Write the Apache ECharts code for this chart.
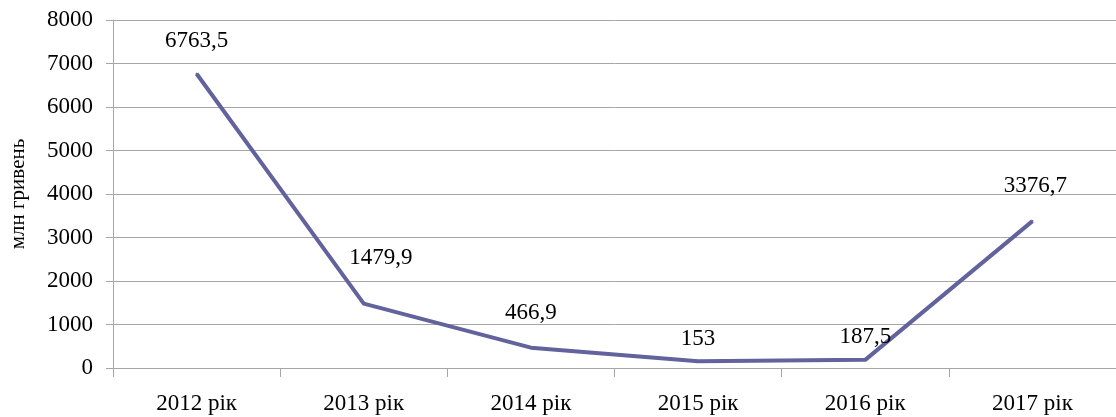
<!DOCTYPE html>
<html>
<head>
<meta charset="utf-8">
<script src="https://cdn.jsdelivr.net/npm/echarts@6/dist/echarts.min.js"></script>
<style>
  html, body { margin: 0; padding: 0; background: #fff; }
  #chart { width: 1116px; height: 417px; }
</style>
</head>
<body>
<div id="chart"></div>
<script>
// дані
const years = ['2012 рік', '2013 рік', '2014 рік', '2015 рік', '2016 рік', '2017 рік'];
const values = [6763.5, 1479.9, 466.9, 153, 187.5, 3376.7];
// зсув підписів над точками
const labelDistance = [20, 33, 22, 10, 10, 23];
const labelShiftX = [0, 17, 0, 0, 0, 3];

const font = '"Liberation Serif", "Times New Roman", serif';
const lineColor = '#62629c';

const chart = echarts.init(document.getElementById('chart'));
chart.setOption({
  animation: false,
  grid: { left: 110, right: 0, top: 20, bottom: 49 },
  xAxis: {
    type: 'category',
    data: years,
    boundaryGap: true,
    axisLine: { lineStyle: { color: '#a6a6a6' } },
    axisTick: { show: true, length: 9, lineStyle: { color: '#a6a6a6' } },
    axisLabel: { color: '#000', fontFamily: font, fontSize: 23, margin: 24 },
    splitLine: { show: false }
  },
  yAxis: {
    type: 'value',
    min: 0,
    max: 8000,
    interval: 1000,
    name: 'млн гривень',
    nameLocation: 'middle',
    nameGap: 84,
    nameRotate: 90,
    nameTextStyle: { color: '#000', fontFamily: font, fontSize: 21 },
    axisLine: { show: true, lineStyle: { color: '#a6a6a6' } },
    axisTick: { show: true, length: 7, lineStyle: { color: '#a6a6a6' } },
    axisLabel: {
      color: '#000', fontFamily: font, fontSize: 23, margin: 20,
      formatter: v => String(v)
    },
    splitLine: { lineStyle: { color: '#a6a6a6' } }
  },
  series: [{
    type: 'line',
    data: values.map((v, i) => ({
      value: v,
      label: { distance: labelDistance[i], offset: [labelShiftX[i], 0] }
    })),
    symbol: 'circle',
    symbolSize: 2,
    showSymbol: true,
    itemStyle: { color: lineColor },
    lineStyle: { color: lineColor, width: 4 },
    label: {
      show: true,
      position: 'top',
      color: '#000',
      fontFamily: font,
      fontSize: 23,
      formatter: p => String(p.value).replace('.', ',')
    }
  }]
});
</script>
</body>
</html>
